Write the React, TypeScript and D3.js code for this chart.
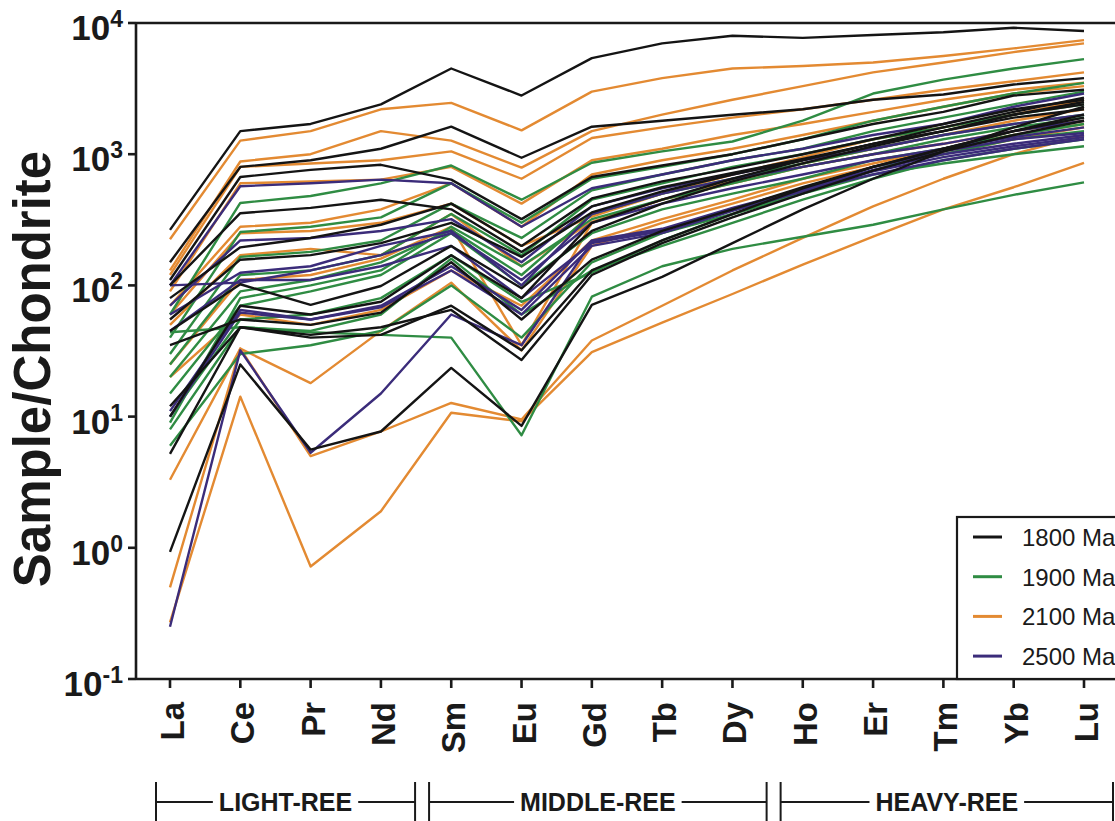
import React, { useEffect, useRef } from 'react';
import * as d3 from 'd3';

// Chondrite-normalised REE patterns grouped by age
const ELEMENTS = ['La', 'Ce', 'Pr', 'Nd', 'Sm', 'Eu', 'Gd', 'Tb', 'Dy', 'Ho', 'Er', 'Tm', 'Yb', 'Lu'];
const Y_TICKS = [0.1, 1, 10, 100, 1000, 10000];
const Y_EXPONENTS = ['-1', '0', '1', '2', '3', '4'];
const AGE_LABELS = ['1800 Ma', '1900 Ma', '2100 Ma', '2500 Ma'];
const AGE_COLORS = ['#141414', '#2f8c43', '#e38a32', '#3b2c7a'];

const REE_GROUPS = [
  { label: 'LIGHT-REE', first: 'La', last: 'Nd' },
  { label: 'MIDDLE-REE', first: 'Sm', last: 'Dy' },
  { label: 'HEAVY-REE', first: 'Ho', last: 'Lu' },
];

const samples1800: number[][] = [
  [265, 1500, 1700, 2400, 4500, 2800, 5400, 7000, 8000, 7700, 8100, 8500, 9200, 8700],
  [150, 800, 900, 1100, 1620, 940, 1620, 1800, 2000, 2200, 2600, 2850, 3400, 3800],
  [110, 670, 760, 830, 640, 320, 670, 820, 1000, 1300, 1700, 2100, 2800, 3100],
  [100, 355, 390, 450, 380, 180, 400, 560, 720, 920, 1200, 1500, 2000, 2500],
  [80, 195, 230, 290, 420, 200, 460, 620, 780, 1000, 1300, 1700, 2200, 2600],
  [55, 157, 170, 210, 300, 165, 360, 520, 700, 900, 1200, 1500, 2000, 2400],
  [45, 102, 71, 99, 200, 95, 260, 420, 620, 850, 1150, 1500, 1900, 2200],
  [35, 55, 50, 62, 150, 55, 157, 260, 380, 560, 800, 1100, 1500, 1900],
  [12, 48, 42, 48, 65, 27, 120, 210, 330, 500, 750, 1050, 1400, 1800],
  [0.93, 25, 5.6, 7.7, 23.5, 8.5, 71, 116, 210, 380, 650, 1050, 1600, 2300],
  [5.2, 48, 40, 42, 70, 32, 130, 220, 350, 550, 800, 1100, 1500, 2000],
  [10, 70, 60, 75, 170, 80, 300, 450, 650, 900, 1200, 1600, 2100, 2700],
];

const samples1900: number[][] = [
  [60, 425, 480, 600, 820, 450, 860, 1050, 1250, 1800, 2900, 3700, 4500, 5300],
  [40, 255, 280, 330, 600, 300, 650, 800, 1000, 1300, 1800, 2300, 2900, 3500],
  [30, 165, 180, 220, 420, 230, 530, 700, 900, 1100, 1500, 1900, 2400, 3000],
  [25, 120, 130, 170, 350, 170, 450, 600, 800, 1000, 1300, 1600, 2000, 2400],
  [20, 90, 110, 150, 265, 120, 350, 500, 650, 850, 1100, 1400, 1700, 2000],
  [15, 70, 90, 120, 250, 100, 250, 380, 500, 650, 900, 1100, 1400, 1700],
  [10, 55, 60, 80, 170, 75, 125, 220, 350, 520, 800, 1000, 1300, 1500],
  [8, 48, 45, 60, 160, 60, 130, 200, 300, 450, 650, 900, 1100, 1300],
  [44, 48, 44, 42, 40, 7.2, 82, 140, 190, 235, 290, 380, 490, 610],
  [6, 30, 35, 45, 100, 40, 150, 250, 350, 500, 700, 850, 1000, 1150],
  [9, 80, 100, 130, 280, 140, 320, 450, 600, 800, 1000, 1300, 1600, 1900],
];

const samples2100: number[][] = [
  [225, 1270, 1500, 2200, 2460, 1520, 3000, 3800, 4500, 4700, 5000, 5600, 6400, 7400],
  [130, 880, 1000, 1500, 1270, 790, 1500, 2000, 2600, 3300, 4200, 5000, 6000, 7000],
  [120, 800, 850, 900, 1050, 650, 1330, 1600, 1900, 2200, 2600, 3100, 3600, 4200],
  [90, 600, 620, 640, 800, 420, 900, 1100, 1400, 1700, 2100, 2600, 3100, 3500],
  [70, 280, 300, 380, 600, 280, 700, 900, 1100, 1400, 1800, 2300, 2900, 3300],
  [60, 250, 260, 300, 420, 200, 335, 500, 700, 950, 1300, 1600, 2000, 2600],
  [50, 170, 190, 170, 350, 140, 305, 450, 620, 850, 1100, 1400, 1800, 2200],
  [25, 110, 120, 160, 280, 35, 300, 450, 600, 800, 1000, 1200, 1500, 1800],
  [20, 60, 50, 65, 130, 70, 220, 320, 450, 650, 850, 1100, 1400, 1700],
  [3.3, 33, 18, 45, 105, 32, 200, 300, 420, 600, 800, 1000, 1300, 1600],
  [0.5, 33, 5, 7.7, 12.7, 9.5, 38, 70, 130, 230, 400, 650, 1000, 1400],
  [0.27, 14.2, 0.72, 1.9, 10.7, 9.2, 31, 52, 86, 144, 235, 380, 560, 860],
];

const samples2500: number[][] = [
  [100, 570, 600, 640, 600, 280, 550, 700, 900, 1100, 1400, 1700, 2300, 2900],
  [70, 220, 230, 260, 320, 150, 400, 550, 700, 900, 1100, 1400, 1700, 2000],
  [60, 125, 140, 200, 260, 100, 350, 500, 650, 800, 1000, 1200, 1500, 1800],
  [45, 110, 110, 140, 200, 80, 210, 260, 380, 530, 800, 1050, 1300, 1450],
  [11, 65, 55, 70, 140, 65, 220, 270, 390, 540, 760, 1000, 1200, 1400],
  [10, 62, 55, 68, 130, 60, 200, 250, 370, 520, 740, 950, 1150, 1350],
  [0.25, 32, 5.3, 15, 60, 35, 215, 265, 385, 530, 700, 900, 1100, 1300],
  [100, 105, 130, 170, 250, 110, 300, 420, 550, 700, 900, 1100, 1350, 1600],
];

const SAMPLE_SETS = [samples1800, samples1900, samples2100, samples2500];
// drawing order of the age groups (later groups sit on top)
const DRAW_ORDER = [2, 1, 3, 0];

const W = 1115;
const H = 821;
const FONT = '"Liberation Sans", Arial, Helvetica, sans-serif';

export default function App() {
  const ref = useRef<SVGSVGElement | null>(null);

  useEffect(() => {
    const svg = d3.select(ref.current);
    svg.selectAll('*').remove();

    const left = 136;
    const right = 1118;
    const top = 23;
    const bottom = 679;

    const x = d3.scalePoint<string>().domain(ELEMENTS).range([170, 1084]);
    const y = d3.scaleLog().domain([0.1, 10000]).range([bottom, top]);

    const g = svg.append('g');

    // sample patterns
    const line = d3
      .line<number>()
      .x((_, i) => x(ELEMENTS[i]) as number)
      .y((d) => y(d));

    const linesG = g.append('g').attr('fill', 'none').attr('stroke-width', 2.4).attr('stroke-linejoin', 'round');
    DRAW_ORDER.forEach((gi) => {
      linesG
        .append('g')
        .attr('stroke', AGE_COLORS[gi])
        .selectAll('path')
        .data(SAMPLE_SETS[gi])
        .join('path')
        .attr('d', (d) => line(d));
    });

    // frame: left axis, top line, bottom axis
    const frame = g.append('g').attr('stroke', '#1a1a1a').attr('stroke-width', 2.6).attr('fill', 'none');
    frame.append('line').attr('x1', left).attr('x2', left).attr('y1', top).attr('y2', bottom);
    frame.append('line').attr('x1', left).attr('x2', right).attr('y1', top).attr('y2', top);
    frame.append('line').attr('x1', left).attr('x2', right).attr('y1', bottom).attr('y2', bottom);

    // y ticks
    frame
      .selectAll('line.yt')
      .data(Y_TICKS)
      .join('line')
      .attr('class', 'yt')
      .attr('x1', left - 8)
      .attr('x2', left)
      .attr('y1', (d) => y(d))
      .attr('y2', (d) => y(d));

    const yLab = g
      .append('g')
      .attr('font-family', FONT)
      .attr('font-weight', 'bold')
      .attr('fill', '#1a1a1a')
      .selectAll('text')
      .data(Y_TICKS)
      .join('text')
      .attr('x', 123)
      .attr('y', (d) => y(d) + 17)
      .attr('text-anchor', 'end')
      .attr('font-size', 35);
    yLab.append('tspan').text('10');
    yLab
      .append('tspan')
      .attr('dy', -13)
      .attr('font-size', 23)
      .text((_, i) => Y_EXPONENTS[i]);

    // x ticks
    frame
      .selectAll('line.xt')
      .data(ELEMENTS)
      .join('line')
      .attr('class', 'xt')
      .attr('x1', (d) => x(d) as number)
      .attr('x2', (d) => x(d) as number)
      .attr('y1', bottom)
      .attr('y2', bottom + 9);

    g.append('g')
      .attr('font-family', FONT)
      .attr('font-weight', 'bold')
      .attr('font-size', 33)
      .attr('fill', '#1a1a1a')
      .selectAll('text')
      .data(ELEMENTS)
      .join('text')
      .attr('transform', (d) => `translate(${(x(d) as number) + 14},${702}) rotate(-90)`)
      .attr('text-anchor', 'end')
      .text((d) => d);

    // axis title
    g.append('text')
      .attr('transform', `translate(50,369) rotate(-90)`)
      .attr('text-anchor', 'middle')
      .attr('font-family', FONT)
      .attr('font-weight', 'bold')
      .attr('font-size', 51)
      .attr('fill', '#1a1a1a')
      .text('Sample/Chondrite');

    // REE group brackets
    const step = x.step();
    const bracketY = 802;
    const br = g.append('g');
    REE_GROUPS.forEach((grp, i) => {
      const x0 = i === 0 ? (x(grp.first) as number) - 14 : (x(grp.first) as number) - step / 2 + 13;
      const x1 = i === REE_GROUPS.length - 1 ? (x(grp.last) as number) + 29 : (x(grp.last) as number) + step / 2 - 1;
      const cx = (x0 + x1) / 2;
      const t = br
        .append('text')
        .attr('x', cx)
        .attr('y', bracketY + 9)
        .attr('text-anchor', 'middle')
        .attr('font-family', FONT)
        .attr('font-weight', 'bold')
        .attr('font-size', 25)
        .attr('fill', '#1a1a1a')
        .text(grp.label);
      const tw = (t.node() as SVGTextElement).getComputedTextLength();
      const s = br.append('g').attr('stroke', '#1a1a1a').attr('stroke-width', 2);
      s.append('line').attr('x1', x0).attr('x2', x0).attr('y1', 782).attr('y2', 825);
      s.append('line').attr('x1', x1).attr('x2', x1).attr('y1', 782).attr('y2', 825);
      s.append('line').attr('x1', x0).attr('x2', cx - tw / 2 - 6).attr('y1', bracketY).attr('y2', bracketY);
      s.append('line').attr('x1', cx + tw / 2 + 6).attr('x2', x1).attr('y1', bracketY).attr('y2', bracketY);
    });

    // legend
    const lg = g.append('g');
    lg.append('rect')
      .attr('x', 957)
      .attr('y', 517)
      .attr('width', 170)
      .attr('height', bottom - 517)
      .attr('fill', '#fff')
      .attr('stroke', '#1a1a1a')
      .attr('stroke-width', 2.2);
    const rows = lg
      .selectAll('g.row')
      .data(AGE_LABELS)
      .join('g')
      .attr('class', 'row')
      .attr('transform', (_, i) => `translate(0,${537 + i * 39.7})`);
    rows
      .append('line')
      .attr('x1', 973)
      .attr('x2', 1002)
      .attr('stroke', (_, i) => AGE_COLORS[i])
      .attr('stroke-width', 3);
    rows
      .append('text')
      .attr('x', 1022)
      .attr('y', 9)
      .attr('font-family', FONT)
      .attr('font-size', 24)
      .attr('fill', '#1a1a1a')
      .text((d) => d);
  }, []);

  return (
    <svg
      ref={ref}
      width={W}
      height={H}
      style={{ position: 'absolute', left: 0, top: 0, background: '#fff' }}
    />
  );
}
